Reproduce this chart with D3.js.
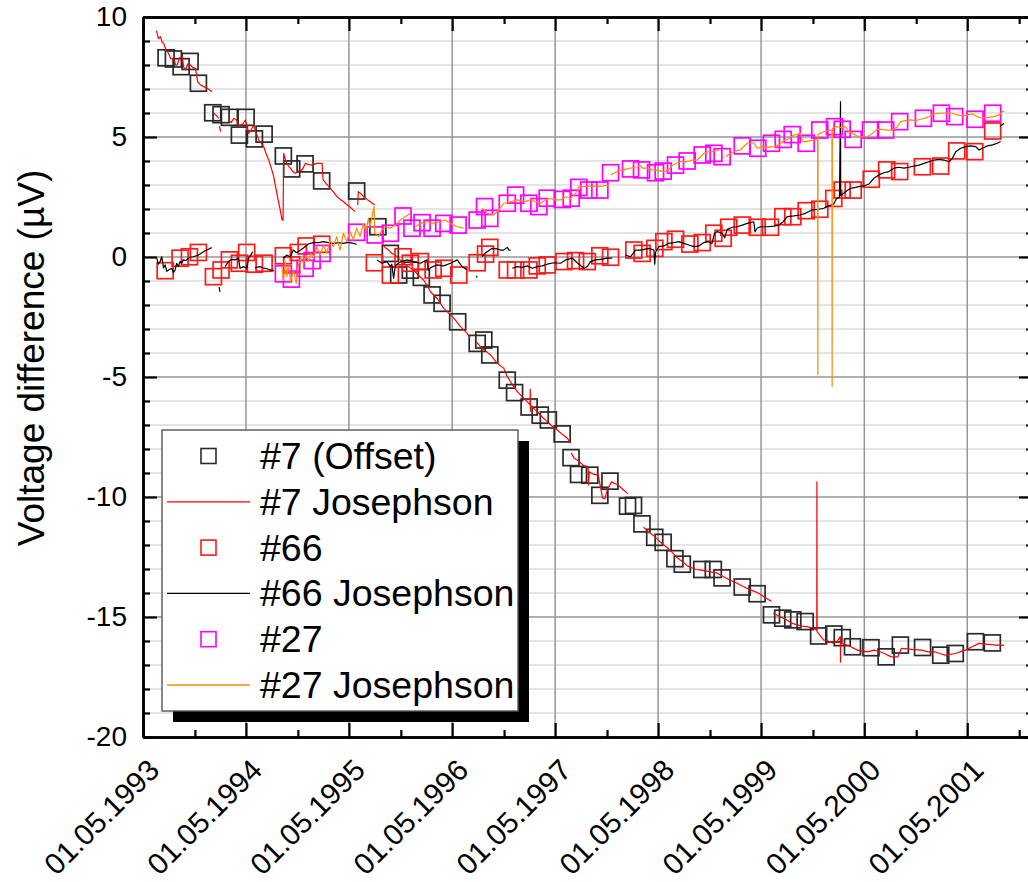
<!DOCTYPE html>
<html>
<head>
<meta charset="utf-8">
<script src="https://cdn.jsdelivr.net/npm/d3@7"></script>
<style>
  body { margin: 0; background: #fff; }
  svg { display: block; font-family: "Liberation Sans", Arial, sans-serif; }
</style>
</head>
<body>
<svg id="chart" width="1028" height="882"></svg>
<script>
// ---- values: [decimal year, voltage difference in µV] ----
const sq7 = [[1993.553,8.30],[1993.624,8.25],[1993.699,7.93],[1993.786,8.15],[1993.867,7.24],[1994.006,6.01],[1994.087,5.93],[1994.168,5.82],[1994.265,5.08],[1994.330,5.82],[1994.411,4.92],[1994.505,5.12],[1994.692,4.21],[1994.773,3.67],[1994.903,3.88],[1995.064,3.17],[1995.404,2.75],[1995.610,1.26],[1995.731,0.15],[1995.812,-0.75],[1995.925,-0.55],[1996.032,-0.85],[1996.136,-1.58],[1996.233,-1.93],[1996.384,-2.70],[1996.573,-3.60],[1996.637,-3.46],[1996.695,-4.08],[1996.864,-5.13],[1996.935,-5.65],[1997.076,-6.25],[1997.184,-6.59],[1997.263,-6.79],[1997.397,-7.37],[1997.483,-8.36],[1997.556,-9.06],[1997.665,-9.09],[1997.763,-9.93],[1997.861,-9.34],[1998.032,-10.38],[1998.090,-10.35],[1998.172,-11.12],[1998.296,-11.68],[1998.378,-11.89],[1998.492,-12.57],[1998.564,-12.80],[1998.753,-13.02],[1998.865,-13.02],[1998.950,-13.37],[1999.146,-13.75],[1999.290,-14.03],[1999.430,-14.91],[1999.539,-15.05],[1999.637,-15.12],[1999.757,-15.19],[1999.888,-15.79],[2000.035,-15.71],[2000.117,-15.86],[2000.216,-16.24],[2000.395,-16.28],[2000.542,-16.66],[2000.680,-16.17],[2000.895,-16.27],[2001.071,-16.59],[2001.212,-16.52],[2001.408,-16.03],[2001.572,-16.08]];

const sq66 = [[1993.544,-0.57],[1993.689,-0.05],[1993.780,0.01],[1993.867,0.19],[1994.013,-0.82],[1994.087,-0.54],[1994.168,-0.12],[1994.265,-0.26],[1994.336,0.19],[1994.411,-0.30],[1994.505,-0.26],[1994.692,0.05],[1994.773,-0.33],[1994.838,0.19],[1994.913,0.46],[1995.064,0.53],[1995.576,-0.24],[1995.731,-0.75],[1995.854,0.01],[1995.925,-0.26],[1996.022,-0.19],[1996.146,-0.54],[1996.249,-0.47],[1996.395,-0.75],[1996.573,-0.24],[1996.654,0.12],[1996.695,0.40],[1996.864,-0.54],[1996.945,-0.54],[1997.074,-0.54],[1997.155,-0.37],[1997.252,-0.33],[1997.414,-0.19],[1997.527,-0.15],[1997.641,-0.19],[1997.763,0.05],[1997.867,-0.01],[1998.093,0.29],[1998.174,0.15],[1998.297,0.36],[1998.385,0.64],[1998.498,0.74],[1998.637,0.54],[1998.757,0.60],[1998.870,0.99],[1998.961,0.78],[1999.015,1.24],[1999.146,1.33],[1999.291,1.24],[1999.420,1.24],[1999.540,1.68],[1999.637,1.68],[1999.767,1.93],[1999.899,1.99],[2000.035,2.44],[2000.116,2.79],[2000.223,2.79],[2000.398,3.24],[2000.547,3.63],[2000.673,3.56],[2000.893,3.76],[2001.071,3.79],[2001.226,4.42],[2001.401,4.39],[2001.576,5.25]];

const sq27 = [[1994.692,-0.70],[1994.770,-0.92],[1994.903,-0.47],[1994.971,-0.15],[1995.068,0.15],[1995.404,1.03],[1995.583,0.92],[1995.731,0.99],[1995.854,1.71],[1995.941,1.20],[1996.039,1.43],[1996.136,1.20],[1996.249,1.40],[1996.388,1.33],[1996.573,1.54],[1996.644,2.10],[1996.695,1.61],[1996.864,2.24],[1996.945,2.58],[1997.074,2.24],[1997.171,2.10],[1997.252,2.45],[1997.398,2.40],[1997.485,2.45],[1997.559,2.90],[1997.656,2.79],[1997.763,2.79],[1997.867,3.51],[1998.061,3.67],[1998.168,3.63],[1998.304,3.51],[1998.378,3.58],[1998.498,3.83],[1998.611,4.00],[1998.757,4.25],[1998.870,4.32],[1998.951,4.18],[1999.146,4.63],[1999.297,4.53],[1999.430,4.74],[1999.544,4.90],[1999.631,5.10],[1999.767,4.74],[1999.899,5.29],[2000.042,5.43],[2000.116,5.32],[2000.223,4.90],[2000.391,5.29],[2000.537,5.29],[2000.673,5.64],[2000.903,5.78],[2001.078,5.99],[2001.207,5.85],[2001.404,5.74],[2001.576,5.99]];

// Josephson comparisons; null marks a gap in the record
const jj7 = [[1993.459,9.43],[1993.478,9.10],[1993.498,9.18],[1993.515,8.95],[1993.530,8.90],[1993.550,8.65],[1993.576,8.49],[1993.600,8.25],[1993.627,8.28],[1993.645,8.00],[1993.660,8.00],[1993.685,8.30],[1993.709,8.35],[1993.725,7.90],[1993.741,7.79],[1993.765,8.05],[1993.789,8.00],[1993.810,7.90],[1993.838,7.86],[1993.860,7.30],[1993.887,7.17],[1993.920,7.10],[1993.951,7.03],[1994.000,6.89],null,
  [1994.016,5.99],[1994.040,5.90],[1994.064,5.78],null,[1994.072,5.45],[1994.082,5.22],null,
  [1994.161,5.71],[1994.185,5.60],[1994.210,5.78],[1994.240,5.70],[1994.260,5.45],[1994.275,5.50],[1994.300,5.55],[1994.323,5.71],[1994.340,5.40],[1994.355,5.15],[1994.380,5.30],[1994.404,5.50],[1994.425,5.20],[1994.452,4.88],[1994.475,4.75],[1994.501,4.60],[1994.525,4.30],[1994.550,4.04],[1994.575,3.70],[1994.598,3.35],[1994.620,2.85],[1994.640,2.40],[1994.660,2.00],[1994.680,1.54],[1994.689,1.54],[1994.695,4.32],[1994.715,4.00],[1994.740,3.80],[1994.760,3.70],[1994.785,3.55],[1994.809,3.49],[1994.840,3.58],[1994.874,3.63],[1994.906,3.90],[1994.940,3.85],[1994.971,3.83],[1995.000,3.88],[1995.019,3.90],[1995.068,3.90],[1995.078,3.21],[1995.110,3.05],[1995.149,2.86],[1995.180,2.70],[1995.214,2.51],[1995.245,2.40],[1995.278,2.30],[1995.310,2.18],[1995.343,2.07],[1995.388,1.89],null,
  [1995.414,2.17],[1995.420,2.72],[1995.433,2.68],[1995.472,2.51],[1995.505,2.40],[1995.537,2.30],[1995.579,2.17],null,
  [1995.650,0.55],[1995.680,0.40],[1995.714,0.29],[1995.745,0.15],[1995.780,0.08],[1995.820,-0.10],[1995.860,-0.25],[1995.905,-0.40],[1995.957,-0.54],[1996.000,-0.75],[1996.054,-0.96],[1996.090,-1.20],[1996.120,-1.45],[1996.184,-1.72],[1996.249,-2.14],[1996.300,-2.35],[1996.346,-2.55],[1996.411,-2.90],[1996.476,-3.18],[1996.505,-3.35],null,
  [1996.570,-3.55],[1996.605,-3.74],[1996.650,-3.90],[1996.702,-4.08],[1996.767,-4.43],[1996.831,-4.64],[1996.860,-4.95],[1996.896,-5.20],[1996.961,-5.61],[1997.025,-5.89],[1997.085,-6.15],[1997.087,-5.51],[1997.089,-6.42],[1997.090,-6.17],[1997.130,-6.35],[1997.171,-6.51],[1997.210,-6.70],[1997.253,-6.86],[1997.300,-7.05],[1997.350,-7.21],[1997.400,-7.40],[1997.447,-7.55],[1997.479,-7.76],null,
  [1997.485,-8.17],[1997.512,-8.38],[1997.555,-8.50],[1997.600,-8.67],[1997.650,-8.80],[1997.652,-9.50],[1997.660,-8.95],[1997.700,-9.05],[1997.747,-9.09],[1997.770,-9.60],[1997.790,-10.05],[1997.813,-10.07],[1997.835,-9.70],[1997.877,-9.37],[1997.943,-9.51],[1997.990,-9.70],[1998.035,-9.86],null,
  [1998.188,-11.26],[1998.237,-11.47],[1998.285,-11.60],[1998.335,-11.82],[1998.385,-12.00],[1998.434,-12.17],[1998.475,-12.35],[1998.516,-12.53],[1998.565,-12.70],[1998.614,-12.87],[1998.655,-12.95],[1998.695,-13.02],[1998.745,-13.05],[1998.793,-13.08],[1998.840,-13.12],[1998.891,-13.15],[1998.956,-13.30],[1999.020,-13.45],[1999.087,-13.57],[1999.140,-13.70],[1999.186,-13.79],[1999.245,-13.90],[1999.300,-14.00],[1999.365,-14.18],[1999.430,-14.35],null,
  [1999.447,-14.84],[1999.510,-14.98],[1999.578,-15.12],[1999.625,-15.25],[1999.676,-15.33],[1999.725,-15.38],[1999.774,-15.40],[1999.839,-15.47],[1999.870,-15.55],[1999.871,-9.37],[1999.873,-15.61],[1999.937,-15.96],[1999.990,-16.02],[2000.035,-16.10],[2000.070,-16.00],[2000.098,-15.82],[2000.100,-16.88],[2000.102,-16.10],[2000.150,-16.15],[2000.199,-16.24],[2000.264,-16.38],[2000.315,-16.42],[2000.362,-16.45],[2000.427,-16.38],[2000.480,-16.45],[2000.525,-16.52],[2000.591,-16.66],[2000.656,-16.66],[2000.689,-16.31],[2000.740,-16.33],[2000.787,-16.35],[2000.885,-16.38],[2000.951,-16.45],[2001.016,-16.45],[2001.060,-16.52],[2001.114,-16.59],[2001.212,-16.52],[2001.310,-16.38],[2001.376,-16.24],[2001.441,-16.10],[2001.506,-16.13],[2001.604,-16.17],[2001.687,-16.17]];

const jj66 = [[1993.462,-0.05],[1993.478,-0.30],[1993.495,-0.19],[1993.511,0.01],[1993.528,-0.45],[1993.544,-0.33],[1993.560,-0.60],[1993.576,-0.54],[1993.608,-0.47],[1993.625,-0.65],[1993.641,-0.54],[1993.656,-0.26],[1993.672,-0.40],[1993.689,-0.19],[1993.705,-0.25],[1993.721,-0.12],[1993.745,-0.15],[1993.770,-0.05],[1993.795,0.00],[1993.819,0.01],[1993.845,0.05],[1993.867,0.08],[1993.890,0.15],[1993.916,0.22],[1993.940,0.28],[1993.964,0.32],[1993.996,0.39],null,
  [1994.068,-1.25],[1994.076,-1.45],null,
  [1994.126,-0.40],[1994.142,-0.30],[1994.158,-0.19],[1994.190,-0.10],[1994.223,-0.12],[1994.255,-0.05],[1994.272,-0.47],[1994.304,-0.40],[1994.336,-0.47],[1994.355,-0.05],[1994.375,0.08],[1994.394,0.22],null,
  [1994.417,-0.47],[1994.440,-0.42],[1994.466,-0.40],[1994.490,-0.45],[1994.515,-0.47],[1994.540,-0.50],[1994.563,-0.54],[1994.602,-0.57],null,
  [1994.692,-0.05],[1994.724,0.08],[1994.757,0.01],[1994.789,0.29],[1994.821,0.18],[1994.870,0.32],[1994.903,0.43],[1994.935,0.54],[1994.983,0.60],[1995.032,0.60],[1995.081,0.64],[1995.129,0.60],[1995.178,0.57],[1995.226,0.60],[1995.275,0.57],[1995.323,0.61],[1995.372,0.57],[1995.404,0.53],null,
  [1995.602,-0.12],[1995.650,-0.26],[1995.699,-0.19],[1995.731,-0.40],[1995.745,-0.30],[1995.763,-0.89],[1995.780,-0.35],[1995.830,-0.20],[1995.893,-0.12],[1995.957,-0.19],[1996.022,-0.26],[1996.087,-0.12],[1996.100,-0.54],[1996.120,-0.45],[1996.184,-0.33],[1996.249,-0.37],[1996.314,-0.26],[1996.379,-0.12],[1996.427,-0.40],[1996.476,-0.54],null,
  [1996.565,-0.78],[1996.572,-0.86],null,
  [1996.621,0.01],[1996.645,0.15],[1996.670,0.22],[1996.718,0.36],[1996.767,0.34],[1996.799,0.29],[1996.831,0.29],[1996.864,0.40],[1996.880,0.29],[1996.896,0.29],null,
  [1996.913,-0.47],[1996.961,-0.40],[1997.010,-0.43],[1997.058,-0.37],[1997.107,-0.47],[1997.155,-0.40],[1997.204,-0.37],[1997.252,-0.30],[1997.317,-0.24],[1997.382,-0.26],[1997.430,-0.12],[1997.495,-0.05],[1997.544,-0.24],[1997.608,-0.47],[1997.641,-0.40],[1997.673,-0.19],[1997.721,-0.12],[1997.770,-0.10],[1997.835,-0.05],[1997.883,-0.05],null,
  [1998.013,0.08],[1998.061,0.01],[1998.110,0.29],[1998.158,0.29],[1998.191,0.32],[1998.239,0.36],[1998.288,0.29],[1998.296,-0.30],[1998.304,0.20],[1998.336,0.43],[1998.385,0.46],[1998.433,0.57],[1998.482,0.60],[1998.530,0.64],[1998.579,0.57],[1998.627,0.50],[1998.676,0.43],[1998.725,0.46],[1998.773,0.60],[1998.822,0.64],[1998.850,0.55],[1998.877,0.99],[1998.903,1.06],[1998.952,0.99],[1998.975,0.80],[1999.000,1.15],[1999.049,1.24],[1999.097,1.26],[1999.146,1.33],[1999.194,1.40],[1999.258,1.47],[1999.270,1.05],[1999.291,1.20],[1999.323,1.26],[1999.388,1.26],[1999.453,1.29],[1999.501,1.33],[1999.544,1.47],[1999.583,1.68],[1999.647,1.71],[1999.705,1.75],[1999.760,1.82],[1999.825,1.96],[1999.889,1.99],[1999.938,2.03],[1999.986,2.13],[2000.035,2.21],[2000.061,2.44],[2000.090,2.50],[2000.100,6.47],[2000.102,2.55],[2000.149,2.72],[2000.197,2.86],[2000.246,2.90],[2000.278,2.93],[2000.326,2.96],[2000.375,3.04],[2000.423,3.28],[2000.472,3.42],[2000.521,3.51],[2000.569,3.56],[2000.618,3.70],[2000.666,3.74],[2000.715,3.70],[2000.763,3.74],[2000.812,3.79],[2000.860,3.83],[2000.909,3.90],[2000.957,3.97],[2001.006,4.04],[2001.055,4.07],[2001.103,4.04],[2001.152,3.97],[2001.185,4.11],[2001.217,4.39],[2001.265,4.53],[2001.314,4.60],[2001.362,4.63],[2001.411,4.60],[2001.443,4.46],[2001.476,4.53],[2001.524,4.63],[2001.573,4.67],[2001.621,4.74],[2001.653,4.81],null,
  [2001.646,5.43],[2001.685,5.57]];

const jj27 = [[1994.676,-0.40],[1994.692,-0.96],[1994.709,-0.19],[1994.724,-0.82],[1994.741,-0.33],[1994.763,-1.03],[1994.789,-0.54],[1994.816,-1.10],[1994.838,-0.33],[1994.860,-0.05],[1994.887,-0.26],[1994.913,0.08],[1994.935,-0.19],[1994.957,0.15],[1994.984,-0.05],[1995.016,0.43],[1995.049,0.08],[1995.081,0.50],[1995.113,0.15],[1995.146,0.71],[1995.178,0.43],[1995.210,0.85],[1995.243,0.29],[1995.275,0.99],[1995.307,0.64],[1995.340,1.06],[1995.372,0.71],[1995.404,1.20],[1995.437,0.85],[1995.469,1.40],[1995.495,1.06],[1995.518,1.61],[1995.534,1.26],[1995.559,1.82],[1995.573,2.10],[1995.580,0.99],[1995.618,0.85],[1995.650,1.13],[1995.683,1.26],[1995.731,1.20],[1995.780,1.33],[1995.828,1.54],[1995.877,1.68],[1995.925,1.82],null,
  [1995.974,1.26],[1996.022,1.40],[1996.087,1.47],[1996.152,1.40],[1996.217,1.47],[1996.265,1.54],[1996.314,1.40],[1996.379,1.26],[1996.443,1.20],null,
  [1996.621,2.03],[1996.670,1.82],[1996.734,1.75],[1996.783,1.96],[1996.831,2.24],[1996.896,2.30],[1996.961,2.38],[1997.025,2.30],[1997.090,2.38],[1997.139,2.30],[1997.187,2.24],[1997.236,2.38],[1997.285,2.44],[1997.333,2.38],[1997.382,2.38],[1997.430,2.51],[1997.479,2.44],[1997.527,2.65],[1997.559,2.93],[1997.608,2.93],[1997.673,2.96],[1997.738,2.93],[1997.802,2.96],[1997.851,3.00],null,
  [1997.867,3.42],[1997.900,3.49],[1997.950,3.60],[1997.996,3.63],[1998.061,3.70],[1998.126,3.76],[1998.150,3.83],[1998.175,3.70],[1998.207,3.70],[1998.240,3.70],[1998.272,3.63],[1998.336,3.60],[1998.385,3.56],[1998.433,3.63],[1998.470,3.83],[1998.530,3.95],[1998.547,3.97],[1998.612,3.97],[1998.660,4.04],[1998.709,4.04],[1998.773,4.32],[1998.822,4.39],[1998.870,4.39],[1998.919,4.46],null,
  [1998.984,4.18],[1999.032,4.32],[1999.081,4.42],[1999.130,4.46],[1999.194,4.74],[1999.259,4.76],[1999.291,4.53],[1999.340,4.60],[1999.388,4.57],[1999.453,4.60],[1999.501,4.67],[1999.540,4.81],[1999.582,4.90],[1999.647,5.08],[1999.712,5.15],[1999.730,4.81],[1999.760,4.81],[1999.809,4.85],[1999.857,4.88],[1999.878,4.88],[1999.880,-4.90],[1999.882,5.10],[1999.900,5.15],[1999.938,5.22],[2000.003,5.29],[2000.017,5.30],[2000.019,-5.40],[2000.021,5.35],[2000.052,5.43],[2000.100,5.40],[2000.149,5.43],[2000.181,5.22],[2000.214,5.15],[2000.262,5.04],[2000.311,5.01],[2000.359,5.01],[2000.408,5.15],[2000.456,5.32],[2000.505,5.32],[2000.553,5.29],[2000.602,5.29],[2000.651,5.43],[2000.683,5.64],[2000.731,5.68],[2000.780,5.71],[2000.829,5.68],[2000.877,5.74],[2000.942,5.82],[2000.990,5.92],[2001.039,5.99],[2001.087,5.99],[2001.136,6.01],[2001.185,5.99],[2001.233,5.92],[2001.282,5.88],[2001.330,5.92],[2001.379,5.96],[2001.427,5.85],[2001.476,5.78],[2001.524,5.82],[2001.589,5.85],[2001.638,5.92],[2001.670,6.06],[2001.686,6.08]];

const tickYears = [1993, 1994, 1995, 1996, 1997, 1998, 1999, 2000, 2001];
const yMajorTicks = [-20, -15, -10, -5, 0, 5, 10];
const legendLabels = ["#7 (Offset)", "#7 Josephson", "#66", "#66 Josephson", "#27", "#27 Josephson"];

// ---- helpers ----
function toDate(y) {
  const yr = Math.floor(y);
  const a = new Date(yr, 0, 1), b = new Date(yr + 1, 0, 1);
  return new Date(+a + (y - yr) * (b - a));
}
const pad = n => String(n).padStart(2, "0");
const fmtDate = d => pad(d.getDate()) + "." + pad(d.getMonth() + 1) + "." + d.getFullYear();

const svg = d3.select("#chart");
const L = 143, R = 1033, T = 17, B = 737;

const x = d3.scaleTime().domain([new Date(1993, 4, 1), new Date(2001, 11, 20)]).range([L, R]);
const y = d3.scaleLinear().domain([-20, 10]).range([B, T]);

const majorDates = tickYears.map(yr => new Date(yr, 4, 1));
const minorDates = tickYears.map(yr => new Date(yr, 10, 1)).filter(d => d < x.domain()[1]);
const yMinor = d3.range(-19, 10).filter(v => v % 5 !== 0);
const yGridMajor = yMajorTicks.filter(v => v > -20 && v < 10);

// ---- grid ----
const grid = svg.append("g");
grid.selectAll(".hmin").data(yMinor).join("line")
  .attr("x1", L).attr("x2", R).attr("y1", d => y(d)).attr("y2", d => y(d))
  .attr("stroke", "#dcdcdc").attr("stroke-width", 1.6);
grid.selectAll(".hmaj").data(yGridMajor).join("line")
  .attr("x1", L).attr("x2", R).attr("y1", d => y(d)).attr("y2", d => y(d))
  .attr("stroke", "#969696").attr("stroke-width", 1.5);
grid.selectAll(".vmaj").data(majorDates.slice(1)).join("line")
  .attr("x1", d => x(d)).attr("x2", d => x(d)).attr("y1", T).attr("y2", B)
  .attr("stroke", "#969696").attr("stroke-width", 1.5);

// ---- series ----
const line = d3.line().defined(d => d !== null)
  .x(d => x(toDate(d[0]))).y(d => y(d[1]));
const S = 16;

function squares(data, color) {
  svg.append("g").selectAll("rect").data(data).join("rect")
    .attr("x", d => x(toDate(d[0])) - S / 2).attr("y", d => y(d[1]) - S / 2)
    .attr("width", S).attr("height", S)
    .attr("fill", "none").attr("stroke", color).attr("stroke-width", 1.7);
}
function trace(data, color) {
  svg.append("path").datum(data).attr("d", line)
    .attr("fill", "none").attr("stroke", color).attr("stroke-width", 1.2)
    .attr("stroke-linejoin", "round");
}

const colors = { sq7: "#2a2a2a", jj7: "#ff0000", sq66: "#ff1a1a", jj66: "#000000", sq27: "#ff00ff", jj27: "#ff8a00" };

squares(sq7, colors.sq7);
trace(jj7, colors.jj7);
squares(sq66, colors.sq66);
trace(jj66, colors.jj66);
squares(sq27, colors.sq27);
trace(jj27, colors.jj27);

// ---- axes (ticks pointing inward on all four sides) ----
function styleAxis(g) {
  g.select(".domain").attr("stroke", "#000").attr("stroke-width", 2.6);
  g.selectAll(".tick line").attr("stroke", "#000").attr("stroke-width", 2.2);
}
const axes = svg.append("g");
axes.append("g").attr("transform", `translate(0,${B})`)
  .call(d3.axisBottom(x).tickValues(minorDates).tickSize(-7).tickSizeOuter(0).tickFormat(""))
  .call(styleAxis);
axes.append("g").attr("transform", `translate(0,${B})`)
  .call(d3.axisBottom(x).tickValues(majorDates).tickSize(-14).tickSizeOuter(0).tickFormat(""))
  .call(styleAxis);
axes.append("g").attr("transform", `translate(0,${T})`)
  .call(d3.axisTop(x).tickValues(minorDates).tickSize(-7).tickSizeOuter(0).tickFormat(""))
  .call(styleAxis);
axes.append("g").attr("transform", `translate(0,${T})`)
  .call(d3.axisTop(x).tickValues(majorDates).tickSize(-14).tickSizeOuter(0).tickFormat(""))
  .call(styleAxis);
axes.append("g").attr("transform", `translate(${L},0)`)
  .call(d3.axisLeft(y).tickValues(yMinor).tickSize(-7).tickSizeOuter(0).tickFormat(""))
  .call(styleAxis);
axes.append("g").attr("transform", `translate(${L},0)`)
  .call(d3.axisLeft(y).tickValues(yMajorTicks).tickSize(-14).tickSizeOuter(0).tickPadding(16).tickFormat(d => d))
  .call(styleAxis)
  .call(g => g.selectAll(".tick text").attr("font-size", 28).attr("fill", "#000")
    .attr("font-family", "'Liberation Sans', Arial, sans-serif"));
axes.append("g").attr("transform", `translate(${R},0)`)
  .call(d3.axisRight(y).tickValues(yMinor).tickSize(-7).tickSizeOuter(0).tickFormat(""))
  .call(styleAxis);
axes.append("g").attr("transform", `translate(${R},0)`)
  .call(d3.axisRight(y).tickValues(yMajorTicks).tickSize(-14).tickSizeOuter(0).tickFormat(""))
  .call(styleAxis);

// rotated date labels
svg.append("g").selectAll("text").data(majorDates).join("text")
  .attr("transform", d => `translate(${x(d) + 18},${B + 35}) rotate(-45)`)
  .attr("text-anchor", "end").attr("font-size", 29.5).attr("fill", "#000")
  .text(fmtDate);

// y-axis title
svg.append("text")
  .attr("transform", `translate(44,${(T + B) / 2 - 19}) rotate(-90)`)
  .attr("text-anchor", "middle").attr("font-size", 37).attr("fill", "#000")
  .text("Voltage difference (µV)");

// ---- legend ----
const lg = svg.append("g");
const lx = 162, ly = 430, lw = 356, lh = 281;
lg.append("rect").attr("x", lx + 11).attr("y", ly + 11).attr("width", lw).attr("height", lh).attr("fill", "#000");
lg.append("rect").attr("x", lx).attr("y", ly).attr("width", lw).attr("height", lh)
  .attr("fill", "#fff").attr("stroke", "#555").attr("stroke-width", 1.4);

const legendKinds = ["sq", "line", "sq", "line", "sq", "line"];
const legendColors = [colors.sq7, colors.jj7, colors.sq66, colors.jj66, colors.sq27, colors.jj27];
const rowY = i => 456 + i * 45.8;
legendLabels.forEach((lab, i) => {
  const cy = rowY(i);
  if (legendKinds[i] === "sq") {
    lg.append("rect").attr("x", 208.5 - 7.5).attr("y", cy - 7.5).attr("width", 15).attr("height", 15)
      .attr("fill", "none").attr("stroke", legendColors[i]).attr("stroke-width", 1.6);
  } else {
    lg.append("line").attr("x1", 167).attr("x2", 250).attr("y1", cy).attr("y2", cy)
      .attr("stroke", legendColors[i]).attr("stroke-width", 1.3);
  }
  lg.append("text").attr("x", 260).attr("y", cy + 13).attr("font-size", 37.5).attr("fill", "#000").text(lab);
});
</script>
</body>
</html>
